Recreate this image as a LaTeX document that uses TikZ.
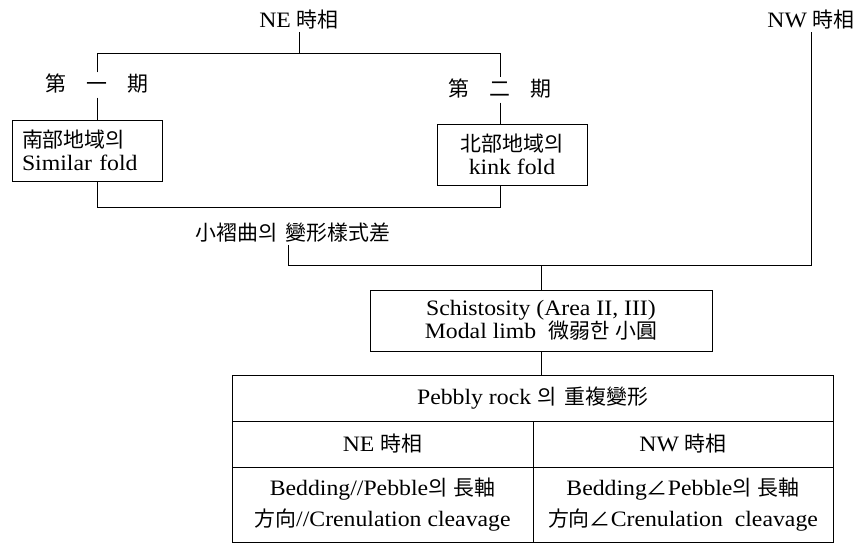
\documentclass[tikz,border=0pt]{standalone}
\usepackage{fontspec}
\setmainfont{Liberation Serif}[FakeStretch=1.08]
\newfontfamily\cjk{Noto Sans CJK KR}[Scale=0.95]
\newcommand\kr[1]{{\cjk #1}}
\tikzset{
  lbl/.style={inner sep=2pt},
  boxnode/.style={draw, line width=1pt, minimum width=150pt, minimum height=61pt, inner xsep=10pt},
  cell/.style={draw, line width=1pt, inner sep=4pt, align=center},
  link/.style={line width=1pt},
}
\begin{document}
\begin{tikzpicture}[x=1pt, y=-1pt, font=\fontsize{22}{23}\selectfont]
\useasboundingbox (0,0) rectangle (856,550);
% top labels
\node[lbl] (ne) at (299,20) {NE \kr{時相}};
\node[lbl] (nw) at (811,20) {NW \kr{時相}};
% first period
\node[lbl, text height=16pt, text depth=3pt, inner ysep=3pt] (p1) at (97,85) {\kr{第\hspace{20pt}一\hspace{20pt}期}};
\node[lbl, text height=16pt, text depth=3pt, inner ysep=3pt] (p2) at (500,90) {\kr{第\hspace{20pt}二\hspace{20pt}期}};
% boxes
\node[boxnode, text width=130pt, align=left] (b1) at (87,150.5) {\kr{南部地域의}\\Similar fold};
\node[boxnode, align=center] (b2) at (512,154.5) {\kr{北部地域의}\\kink fold};
\node[lbl] (sm) at (293,233) {\kr{小褶曲의\hspace{8pt}變形樣式差}};
\node[boxnode, minimum width=342pt, align=center, font=\fontsize{22}{22}\selectfont] (sch) at (541,320.5) {Schistosity (Area II, III)\\Modal limb\hspace{12pt}\kr{微弱한\hspace{6pt}小圓}};
% table
\node[cell, minimum width=601pt, minimum height=46pt] (tt) at (532.5,398) {Pebbly rock \kr{의\hspace{8pt}重複變形}};
\node[cell, minimum width=301pt, minimum height=46pt] (cne) at (382.5,444) {NE \kr{時相}};
\node[cell, minimum width=300pt, minimum height=46pt] (cnw) at (683,444) {NW \kr{時相}};
\node[cell, minimum width=301pt, minimum height=75pt, font=\fontsize{22}{31}\selectfont] (bne) at (382.5,504.5) {Bedding//Pebble\kr{의\hspace{6pt}長軸}\\\kr{方向}//Crenulation cleavage};
\node[cell, minimum width=300pt, minimum height=75pt, font=\fontsize{22}{31}\selectfont] (bnw) at (683,504.5) {Bedding\kr{∠}Pebble\kr{의\hspace{6pt}長軸}\\\kr{方向∠}Crenulation\ \ cleavage};
% junction coordinates
\coordinate (j1) at (299,53);
\coordinate (j2) at (97,207);
\coordinate (j3) at (288,265);
% connectors
\draw[link] (ne.south) -- (j1);
\draw[link] (p1.north) -- (p1.north |- j1) -- (p2.north |- j1) -- (p2.north);
\draw[link] (p1.south) -- (p1.south |- b1.north);
\draw[link] (p2.south) -- (p2.south |- b2.north);
\draw[link] (p1.south |- b1.south) -- (j2) -- (j2 -| p2.south) -- (p2.south |- b2.south);
\draw[link] (sm.south -| j3) -- (j3) -- (j3 -| nw.south) -- (nw.south);
\draw[link] (j3 -| sch.north) -- (sch.north);
\draw[link] (sch.south) -- (sch.south |- tt.north);
\end{tikzpicture}
\end{document}
